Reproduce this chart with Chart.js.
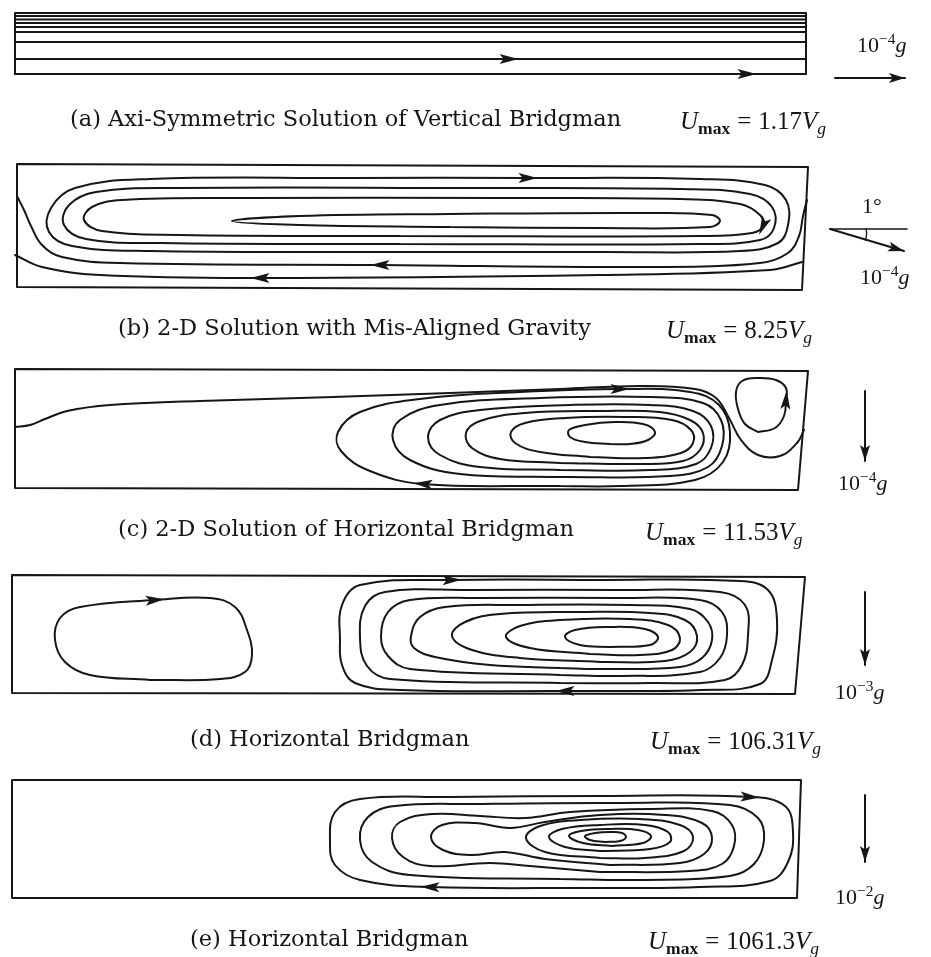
<!DOCTYPE html>
<html>
<head>
<meta charset="utf-8">
<title>Bridgman streamlines</title>
<script src="https://cdn.jsdelivr.net/npm/chart.js@4/dist/chart.umd.min.js"></script>
<style>
  html, body { margin: 0; padding: 0; background: #fff; }
  #wrap { position: relative; width: 931px; height: 957px; overflow: hidden; }
  #flow { position: absolute; left: 0; top: 0; }
  .cap {
    position: absolute; color: #151515; line-height: 1; white-space: nowrap;
    font-family: "DejaVu Serif", serif; font-size: 22.5px;
    transform: translateY(-50%);
  }
  .m { font-family: "Liberation Serif", serif; font-size: 25px; }
  .m sub { font-size: 70%; vertical-align: -0.3em; line-height: 0; }
  .m sub.b { font-weight: bold; font-style: normal; }
  .m .eq { margin: 0 0.28em; }
  .g {
    position: absolute; color: #151515; line-height: 1; white-space: nowrap;
    font-family: "Liberation Serif", serif; font-size: 22px;
    transform: translateY(-50%);
  }
  .g sup { font-size: 70%; vertical-align: 0.5em; line-height: 0; }
</style>
</head>
<body>
<div id="wrap">
  <canvas id="flow" width="931" height="957"></canvas>

  <div class="cap" style="left:70px;top:118px">(a) Axi-Symmetric Solution of Vertical Bridgman</div>
  <div class="cap m" style="left:680px;top:120px"><i>U</i><sub class="b">max</sub><span class="eq">=</span>1.17<i>V</i><sub><i>g</i></sub></div>

  <div class="cap" style="left:118px;top:327px">(b) 2-D Solution with Mis-Aligned Gravity</div>
  <div class="cap m" style="left:666px;top:329px"><i>U</i><sub class="b">max</sub><span class="eq">=</span>8.25<i>V</i><sub><i>g</i></sub></div>

  <div class="cap" style="left:118px;top:528px">(c) 2-D Solution of Horizontal Bridgman</div>
  <div class="cap m" style="left:645px;top:531px"><i>U</i><sub class="b">max</sub><span class="eq">=</span>11.53<i>V</i><sub><i>g</i></sub></div>

  <div class="cap" style="left:190px;top:738px">(d) Horizontal Bridgman</div>
  <div class="cap m" style="left:650px;top:740px"><i>U</i><sub class="b">max</sub><span class="eq">=</span>106.31<i>V</i><sub><i>g</i></sub></div>

  <div class="cap" style="left:190px;top:938px">(e) Horizontal Bridgman</div>
  <div class="cap m" style="left:648px;top:940px"><i>U</i><sub class="b">max</sub><span class="eq">=</span>1061.3<i>V</i><sub><i>g</i></sub></div>

  <div class="g" style="left:857px;top:45px">10<sup>−4</sup><i>g</i></div>
  <div class="g" style="left:862px;top:206px">1°</div>
  <div class="g" style="left:860px;top:277px">10<sup>−4</sup><i>g</i></div>
  <div class="g" style="left:838px;top:483px">10<sup>−4</sup><i>g</i></div>
  <div class="g" style="left:835px;top:692px">10<sup>−3</sup><i>g</i></div>
  <div class="g" style="left:835px;top:897px">10<sup>−2</sup><i>g</i></div>
</div>

<script>
// ---- (a) axi-symmetric vertical Bridgman: parallel streamlines ----
const boxA = [[15,13],[806,13],[806,74],[15,74],[15,13]];
const linesA = [
  [[15,16],[806,16]],
  [[15,19.5],[806,19.5]],
  [[15,23],[806,23]],
  [[15,27],[806,27]],
  [[15,32],[806,32]],
  [[15,42],[806,42]],
  [[15,59],[509,59],[806,59]],
  [[15,74],[747,74],[806,74]]
];
const arrowsA = [[], [], [], [], [], [], [1], [1]];

// ---- (b) mis-aligned gravity: one long cell ----
const boxB = [[17,164],[808,167],[802,290],[17,287],[17,164]];
const linesB = [
  // wall-to-wall streamlines along the bottom
  [[807,200],[803,216],[799,236],[788,253],[760,263],[650,267],[380,265],[120,263],[62,257],[42,245],[31,226],[24,210],[17,196]],
  [[802,262],[770,270],[600,275],[260,278],[100,275],[42,267],[15,255]],
  // closed cells, clockwise
  [[400,252],[150,251],[72,246],[49,232],[51,208],[75,188],[150,179],[350,178],[528,178],[700,179],[765,185],[786,200],[788,225],[778,243],[740,251],[600,252],[400,252]],
  [[400,244],[160,243],[86,239],[64,225],[69,205],[96,192],[180,188],[450,188],[680,189],[750,194],[772,207],[774,228],[760,240],[700,244],[400,244]],
  [[400,236],[180,235],[102,231],[84,220],[92,207],[122,200],[250,198],[500,198],[680,199],[740,204],[760,215],[763,226],[752,233],[700,236],[400,236]],
  [[450,227],[300,225],[232,221],[300,216],[450,214],[650,213],[712,215],[720,221],[710,227],[600,228],[450,227]]
];
const arrowsB = [[6], [3], [8], [], [11], []];

// ---- (c) 2-D horizontal Bridgman, 1e-4 g ----
const boxC = [[15,369],[808,371],[798,490],[15,488],[15,369]];
const linesC = [
  // streamline leaving the left wall, passing between the two cells
  [[15,427],[30,425],[45,419],[67,411],[110,405],[200,401],[333,397],[450,393],[560,389],[640,386],[695,389],[716,398],[729,418],[741,440],[758,455],[780,456],[797,443],[804,430]],
  // main cell, clockwise
  [[560,486],[423,484],[370,471],[341,451],[338,432],[360,412],[420,399],[520,392],[620,389],[690,392],[719,405],[730,432],[723,462],[695,480],[620,486],[560,486]],
  [[560,477],[460,474],[410,460],[393,440],[400,420],[440,405],[540,398],[650,397],[703,403],[721,420],[722,446],[708,467],[670,476],[560,477]],
  [[560,470],[480,467],[440,455],[428,437],[440,420],[480,410],[570,405],[650,405],[693,411],[711,426],[711,448],[696,464],[650,470],[560,470]],
  [[560,463],[500,459],[472,448],[466,433],[480,421],[525,413],[600,411],[660,412],[690,420],[703,433],[700,450],[683,461],[640,464],[560,463]],
  [[590,457],[540,452],[515,443],[511,432],[525,423],[565,418],[625,417],[672,420],[691,430],[693,443],[681,453],[645,458],[590,457]],
  [[610,444],[585,442],[570,437],[569,430],[585,425],[615,422],[643,424],[655,432],[648,440],[630,444],[610,444]],
  // small corner cell, counter-clockwise
  [[758,432],[775,428],[784,416],[786,400],[786,388],[776,380],[758,378],[742,381],[736,392],[738,409],[745,424],[758,432]]
];
const arrowsC = [[], [1, 8], [], [], [], [], [], [3]];

// ---- (d) horizontal Bridgman, 1e-3 g ----
const boxD = [[12,575],[805,577],[795,694],[12,693],[12,575]];
const linesD = [
  [[150,680],[90,675],[65,662],[55,640],[60,618],[80,607],[155,600],[210,598],[235,607],[247,630],[252,655],[245,672],[220,679],[150,680]],
  [[620,691],[565,691],[400,690],[355,683],[342,665],[340,640],[342,605],[360,585],[452,580],[600,580],[740,581],[768,590],[777,620],[772,660],[760,684],[700,690],[620,691]],
  [[560,683],[390,679],[367,666],[360,638],[365,606],[385,592],[470,590],[620,590],[720,592],[745,605],[748,635],[742,665],[725,680],[650,683],[560,683]],
  [[560,675],[410,669],[388,656],[381,637],[388,612],[410,600],[480,598],[620,598],[700,600],[722,612],[727,635],[720,658],[700,672],[620,676],[560,675]],
  [[560,668],[490,665],[435,657],[414,648],[411,636],[420,617],[445,607],[520,605],[630,605],[690,609],[708,622],[712,640],[702,658],[680,667],[600,669],[560,668]],
  [[600,662],[520,658],[472,650],[452,636],[465,622],[500,614],[580,612],[650,613],[685,620],[697,636],[690,652],[665,661],[600,662]],
  [[590,654],[530,648],[506,637],[520,626],[560,620],[630,619],[668,625],[680,638],[672,650],[640,655],[590,654]],
  [[610,647],[580,645],[565,637],[575,630],[610,627],[645,629],[658,637],[650,645],[610,647]]
];
const arrowsD = [[6], [1, 8], [], [], [], [], [], []];

// ---- (e) horizontal Bridgman, 1e-2 g ----
const boxE = [[12,780],[801,780],[797,898],[12,898],[12,780]];
const linesE = [
  [[600,888],[430,887],[360,880],[335,865],[330,842],[335,812],[360,799],[450,797],[600,796],[750,797],[785,806],[793,832],[788,862],[770,881],[700,887],[600,888]],
  [[560,879],[410,875],[372,862],[360,840],[368,817],[395,806],[480,804],[620,803],[730,805],[758,818],[764,840],[754,864],[730,876],[640,880],[560,879]],
  [[600,872],[530,866],[490,863],[430,866],[403,857],[392,838],[400,822],[432,814],[480,816],[525,818],[570,812],[650,809],[712,811],[732,825],[734,846],[722,864],[690,871],[600,872]],
  [[610,865],[545,859],[505,852],[470,855],[443,850],[431,837],[442,825],[475,823],[510,828],[545,822],[600,815],[665,815],[702,823],[712,838],[704,854],[680,863],[610,865]],
  [[600,858],[545,852],[526,838],[540,826],[580,820],[640,819],[680,825],[693,837],[684,851],[645,858],[600,858]],
  [[600,851],[565,847],[549,837],[562,829],[600,825],[645,825],[668,832],[670,842],[650,849],[600,851]],
  [[612,846],[583,843],[569,836],[581,831],[610,829],[638,830],[651,836],[643,843],[612,846]],
  [[605,842],[590,840],[585,836],[595,833],[610,832],[622,833],[626,837],[620,841],[605,842]]
];
const arrowsE = [[1, 9], [], [], [], [], [], [], []];

// ---- gravity vectors beside each panel ----
const gravity = [
  [[835,78],[905,78]],
  [[830,229],[904,251]],
  [[865,391],[865,461]],
  [[865,592],[865,665]],
  [[865,795],[865,862]]
];
const gravityRefB = [[830,229],[907,229]];
const angleArcB = [[866,229],[866.6,234],[865.5,240]];

const INK = "#161616";

function toXY(pts) {
  return pts.map(p => ({ x: p[0], y: p[1] }));
}

function streamSet(pts, arrows, tension) {
  return {
    data: toXY(pts),
    showLine: true,
    borderColor: INK,
    borderWidth: 2,
    pointRadius: 0,
    tension: tension,
    borderJoinStyle: "round",
    borderCapStyle: "round",
    arrows: arrows || [],
  };
}

const datasets = [];
[boxA, boxB, boxC, boxD, boxE].forEach(b => datasets.push(streamSet(b, [], 0)));

[[linesA, arrowsA, 0], [linesB, arrowsB, 0.4], [linesC, arrowsC, 0.4],
 [linesD, arrowsD, 0.4], [linesE, arrowsE, 0.4]].forEach(([lines, arrows, t]) => {
  lines.forEach((pts, i) => datasets.push(streamSet(pts, arrows[i], t)));
});

gravity.forEach(g => {
  const ds = streamSet(g, [1], 0);
  ds.arrowTip = true;
  datasets.push(ds);
});
const ref = streamSet(gravityRefB, [], 0);
ref.borderWidth = 1.6;
datasets.push(ref);
const arc = streamSet(angleArcB, [], 0.4);
arc.borderWidth = 1.4;
datasets.push(arc);

// filled arrowheads along streamlines, pointing in the flow direction
const arrowHeads = {
  id: "arrowHeads",
  afterDatasetsDraw(chart) {
    const ctx = chart.ctx;
    chart.data.datasets.forEach((ds, i) => {
      if (!ds.arrows || !ds.arrows.length) return;
      const pts = chart.getDatasetMeta(i).data;
      ds.arrows.forEach(k => {
        const p = pts[k];
        const a = pts[Math.max(k - 1, 0)];
        const b = pts[Math.min(k + 1, pts.length - 1)];
        const ang = Math.atan2(b.y - a.y, b.x - a.x);
        const len = ds.arrowTip ? 16 : 19;
        const w = 5;
        const shift = ds.arrowTip ? 0 : len / 2;
        ctx.save();
        ctx.translate(p.x + Math.cos(ang) * shift, p.y + Math.sin(ang) * shift);
        ctx.rotate(ang);
        ctx.beginPath();
        ctx.moveTo(0, 0);
        ctx.lineTo(-len, -w);
        ctx.lineTo(-len * 0.78, 0);
        ctx.lineTo(-len, w);
        ctx.closePath();
        ctx.fillStyle = INK;
        ctx.fill();
        ctx.restore();
      });
    });
  }
};

new Chart(document.getElementById("flow"), {
  type: "scatter",
  data: { datasets },
  options: {
    responsive: false,
    animation: false,
    events: [],
    layout: { padding: 0 },
    scales: {
      x: { type: "linear", min: 0, max: 931, display: false },
      y: { type: "linear", min: 0, max: 957, reverse: true, display: false },
    },
    plugins: { legend: { display: false }, tooltip: { enabled: false } },
  },
  plugins: [arrowHeads],
});
</script>
</body>
</html>
